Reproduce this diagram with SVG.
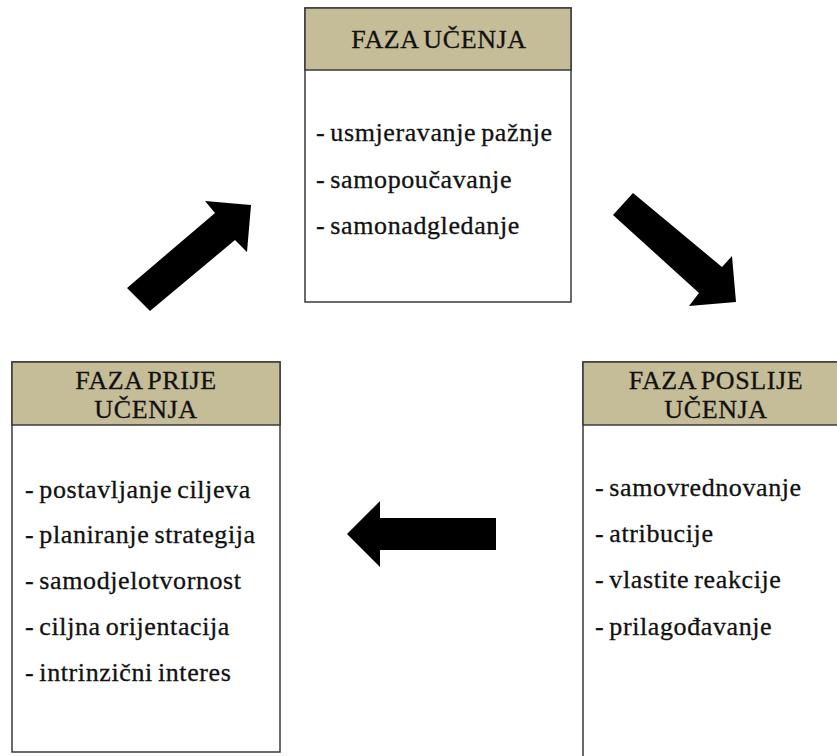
<svg xmlns="http://www.w3.org/2000/svg" width="837" height="756" viewBox="0 0 837 756">
<style>
.box{fill:#ffffff;stroke:#3a3a3a;stroke-width:1.5}
.hdr{fill:#c4bd97;stroke:#3a3a3a;stroke-width:1.5}
.t{font-family:"Liberation Serif","Times New Roman",serif;font-size:26px;fill:#111;stroke:#111;stroke-width:0.3;letter-spacing:0.6px;word-spacing:-2px}
.h{text-anchor:middle}
.arr{fill:#000}
</style>
<rect width="837" height="756" fill="#fff"/>
<g id="faza-ucenja">
<rect class="box" x="305" y="8" width="266" height="294"/>
<rect class="hdr" x="305" y="8" width="266" height="62"/>
<text class="t h" x="439" y="48">FAZA UČENJA</text>
<text class="t" x="316" y="141">- usmjeravanje pažnje</text>
<text class="t" x="316" y="188">- samopoučavanje</text>
<text class="t" x="316" y="234">- samonadgledanje</text>
</g>
<g id="faza-prije-ucenja">
<rect class="box" x="12" y="362" width="268" height="390"/>
<rect class="hdr" x="12" y="362" width="268" height="63"/>
<text class="t h" x="146" y="389">FAZA PRIJE</text>
<text class="t h" x="146" y="418">UČENJA</text>
<text class="t" x="25" y="498">- postavljanje ciljeva</text>
<text class="t" x="25" y="543">- planiranje strategija</text>
<text class="t" x="25" y="589">- samodjelotvornost</text>
<text class="t" x="25" y="635">- ciljna orijentacija</text>
<text class="t" x="25" y="681">- intrinzični interes</text>
</g>
<g id="faza-poslije-ucenja">
<rect class="box" x="583" y="362" width="270" height="420"/>
<rect class="hdr" x="583" y="362" width="270" height="63"/>
<text class="t h" x="716" y="389">FAZA POSLIJE</text>
<text class="t h" x="716" y="418">UČENJA</text>
<text class="t" x="595" y="496">- samovrednovanje</text>
<text class="t" x="595" y="542">- atribucije</text>
<text class="t" x="595" y="588">- vlastite reakcije</text>
<text class="t" x="595" y="635">- prilagođavanje</text>
</g>
<g id="connectors">
<polygon class="arr" points="150,311 127,288 215,213 205,201 251,205 247,252 235,240"/>
<polygon class="arr" points="633,193 722,267 732,256 736,302 689,306 699,293 613,215"/>
<polygon class="arr" points="496,518 380,518 380,501 347,534 380,567 380,550 496,550"/>
</g>
</svg>
